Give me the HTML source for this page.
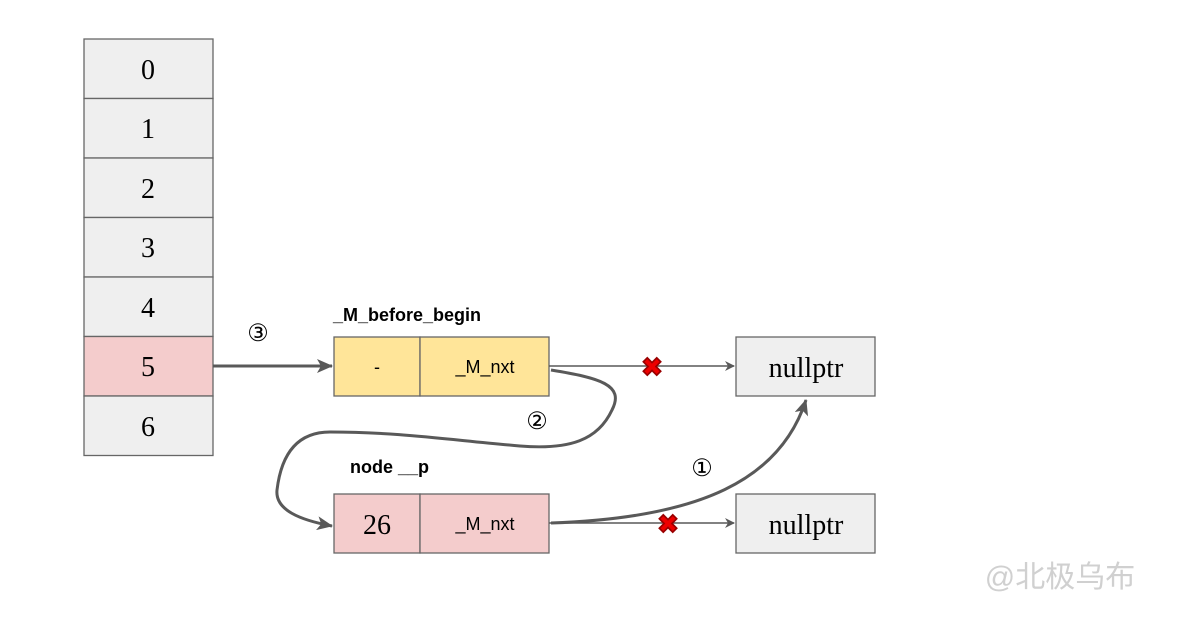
<!DOCTYPE html>
<html><head><meta charset="utf-8"><style>
html,body{margin:0;padding:0;background:#fff;}
svg{display:block;}
.serif{font-family:"Liberation Serif",serif;}
.sans{font-family:"Liberation Sans",sans-serif;}
</style></head><body>
<svg width="1189" height="624" viewBox="0 0 1189 624" xmlns="http://www.w3.org/2000/svg">
<defs>
<marker id="ah" markerWidth="10" markerHeight="10" refX="9" refY="5" orient="auto" markerUnits="userSpaceOnUse">
<path d="M0,0 L10,5 L0,10 L3,5 Z" fill="#595959"/></marker>
<marker id="ah2" markerWidth="16" markerHeight="14" refX="15" refY="7" orient="auto" markerUnits="userSpaceOnUse">
<path d="M0,0 L16,7 L0,14 L4,7 Z" fill="#595959"/></marker>
</defs>
<g stroke="#666" stroke-width="1.3">
<rect x="84" y="39" width="129" height="59.5" fill="#efefef"/>
<rect x="84" y="98.5" width="129" height="59.5" fill="#efefef"/>
<rect x="84" y="158" width="129" height="59.5" fill="#efefef"/>
<rect x="84" y="217.5" width="129" height="59.5" fill="#efefef"/>
<rect x="84" y="277" width="129" height="59.5" fill="#efefef"/>
<rect x="84" y="336.5" width="129" height="59.5" fill="#f4cccc"/>
<rect x="84" y="396" width="129" height="59.5" fill="#efefef"/>
<rect x="334" y="337" width="86" height="59" fill="#ffe599"/>
<rect x="420" y="337" width="129" height="59" fill="#ffe599"/>
<rect x="334" y="494" width="86" height="59" fill="#f4cccc"/>
<rect x="420" y="494" width="129" height="59" fill="#f4cccc"/>
<rect x="736" y="337" width="139" height="59" fill="#efefef"/>
<rect x="736" y="494" width="139" height="59" fill="#efefef"/>
</g>
<g class="serif" font-size="28" text-anchor="middle" fill="#000">
<text x="148" y="79">0</text><text x="148" y="138">1</text><text x="148" y="198">2</text>
<text x="148" y="257">3</text><text x="148" y="317">4</text><text x="148" y="376">5</text>
<text x="148" y="436">6</text>
<text x="377" y="534">26</text>
<text x="806" y="377">nullptr</text><text x="806" y="534">nullptr</text>
</g>
<g class="sans" font-size="18" text-anchor="middle" fill="#000">
<text x="377" y="373">-</text>
<text x="485" y="373">_M_nxt</text>
<text x="485" y="530">_M_nxt</text>
</g>
<g class="sans" font-size="18" font-weight="bold" fill="#000">
<text x="333" y="321">_M_before_begin</text>
<text x="350" y="473">node __p</text>
</g>
<g class="sans" font-size="24" text-anchor="middle" fill="#000">
<text x="258" y="341">③</text><text x="537" y="429">②</text><text x="702" y="476">①</text>
</g>
<g fill="none" stroke="#595959">
<line x1="213" y1="366" x2="332" y2="366" stroke-width="3" marker-end="url(#ah2)"/>
<line x1="549" y1="366" x2="734" y2="366" stroke-width="1.5" marker-end="url(#ah)"/>
<line x1="549" y1="523" x2="734" y2="523" stroke-width="1.5" marker-end="url(#ah)"/>
<path d="M551,370 C600,378 625,385 612,410 C598,440 570,450 520,446 C450,440 400,432 330,432 C290,432 280,465 277,490 C275,510 300,520 332,526" stroke-width="3" marker-end="url(#ah2)"/>
<path d="M551,523 C700,518 780,480 806,400" stroke-width="3" marker-end="url(#ah2)"/>
</g>
<g class="sans" font-size="26" font-weight="bold" fill="#e00" stroke="#900" stroke-width="0.8" text-anchor="middle">
<text x="652" y="376">✖</text><text x="668" y="533">✖</text>
</g>
<text x="1060" y="587" text-anchor="middle" font-family="'Liberation Sans','Noto Sans CJK SC',sans-serif" font-size="30" fill="#d0d0d0">@北极乌布</text>
</svg>
</body></html>
